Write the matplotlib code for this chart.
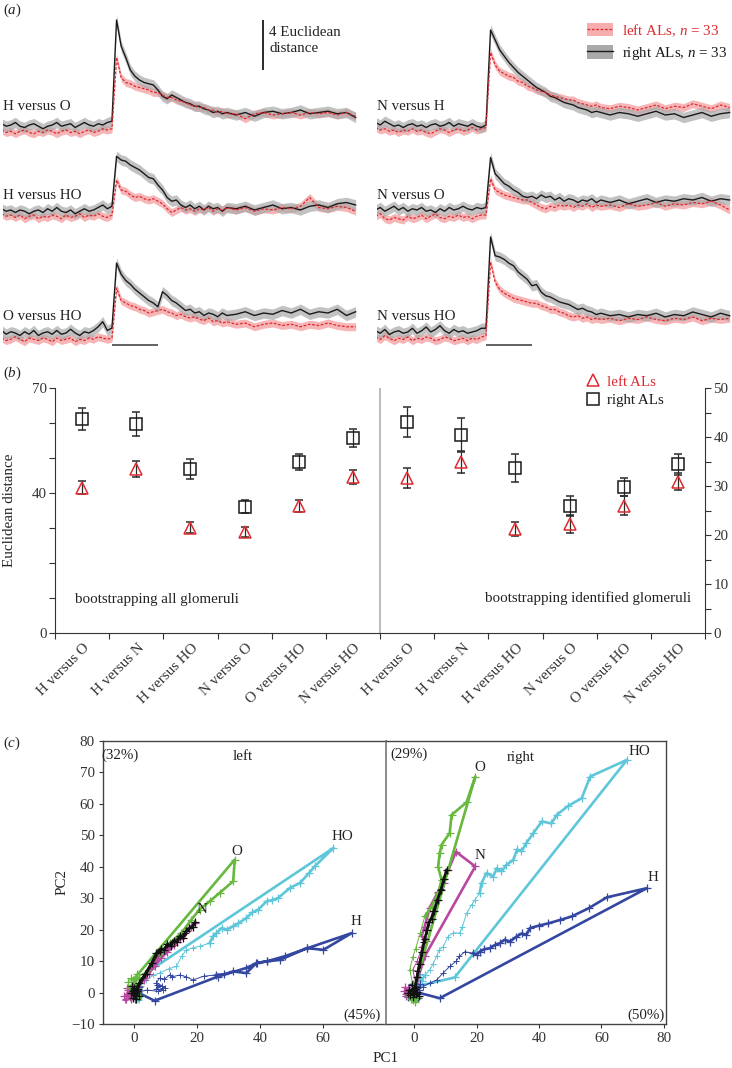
import numpy as np
import matplotlib
matplotlib.use("Agg")
import matplotlib.pyplot as plt
from matplotlib.patches import Patch
from matplotlib.lines import Line2D
import matplotlib.transforms as mtransforms

plt.rcParams['font.family'] = ['Liberation Serif', 'DejaVu Serif']
plt.rcParams['mathtext.fontset'] = 'custom'
plt.rcParams['mathtext.rm'] = 'Liberation Serif'
plt.rcParams['mathtext.it'] = 'Liberation Serif:italic'
plt.rcParams['font.size'] = 10.8
plt.rcParams['text.color'] = '#222222'
plt.rcParams['axes.edgecolor'] = '#333333'
plt.rcParams['xtick.color'] = '#333333'
plt.rcParams['ytick.color'] = '#333333'
FS = 10.8

# ------------------------------------------------------------------ data (a)
T_PRE = [-2.4, -2.3, -2.2, -2.1, -2.0, -1.9, -1.8, -1.7, -1.6, -1.5, -1.4, -1.3,
         -1.2, -1.1, -1.0, -0.9, -0.8, -0.7, -0.6, -0.5, -0.4, -0.3, -0.2, -0.1]
T_POST = [0.0, 0.1, 0.2, 0.3, 0.4, 0.5, 0.6, 0.7, 0.8, 0.9, 1.0, 1.1, 1.2, 1.3,
          1.4, 1.5, 1.6, 1.7, 1.8, 1.9, 2.0, 2.1, 2.2, 2.3, 2.4, 2.5]
T_TAIL = [2.7, 2.9, 3.1, 3.3, 3.5, 3.7, 3.9, 4.1, 4.3, 4.5, 4.7, 4.9, 5.1, 5.3]
STIM = [0.0, 1.0]
SCALE_BAR = 4

HvO_right = [2.1, 1.9, 2.0, 2.2, 1.9, 1.8, 2.0, 2.1, 1.9, 1.7, 1.9, 2.0, 2.2, 1.9, 2.0, 2.1, 1.8, 2.0, 2.2, 2.0, 1.9, 2.1, 2.0, 2.2,
             2.3, 10.4, 8.3, 7.4, 6.4, 5.9, 5.6, 5.4, 5.3, 5.2, 4.8, 4.3, 4.1, 4.4, 4.2, 4.0, 3.8, 3.7, 3.5, 3.5, 3.3, 3.2, 3.0, 3.1, 2.9, 3.0,
             2.8, 3.0, 2.7, 3.0, 3.1, 2.9, 3.0, 3.2, 2.9, 3.0, 3.1, 2.9, 3.0, 2.6]
HvO_left = [1.6, 1.4, 1.5, 1.3, 1.5, 1.6, 1.4, 1.3, 1.5, 1.4, 1.6, 1.5, 1.3, 1.5, 1.6, 1.4, 1.5, 1.3, 1.5, 1.6, 1.4, 1.5, 1.7, 1.6,
            1.7, 7.4, 5.8, 5.4, 5.3, 5.1, 5.0, 4.9, 4.8, 4.6, 4.6, 4.4, 4.2, 4.2, 4.0, 3.9, 3.8, 3.6, 3.5, 3.4, 3.4, 3.2, 3.2, 3.0, 3.1, 2.9,
            2.9, 2.5, 2.9, 3.0, 2.8, 2.9, 3.0, 2.8, 3.0, 2.9, 3.0, 2.8, 3.0, 2.7]
HvHO_right = [2.1, 1.9, 2.0, 1.8, 2.0, 1.9, 1.7, 1.9, 2.0, 1.8, 2.1, 1.9, 2.2, 1.9, 1.8, 2.0, 1.7, 1.9, 2.1, 1.9, 2.0, 2.2, 2.4, 2.1,
              2.3, 6.3, 6.0, 5.9, 5.6, 5.4, 5.2, 4.9, 4.6, 4.5, 4.0, 3.6, 3.0, 2.7, 2.8, 2.4, 2.2, 2.4, 2.1, 2.3, 2.0, 2.3, 2.1, 2.2, 1.9, 2.2,
              2.1, 2.3, 2.0, 2.2, 2.4, 2.1, 2.2, 2.0, 2.3, 2.4, 2.2, 2.5, 2.6, 2.4]
HvHO_left = [1.7, 1.5, 1.6, 1.4, 1.6, 1.3, 1.5, 1.6, 1.3, 1.5, 1.4, 1.6, 1.5, 1.3, 1.6, 1.4, 1.5, 1.7, 1.4, 1.6, 1.5, 1.7, 1.5, 1.4,
             1.6, 4.4, 3.6, 3.5, 3.2, 3.0, 3.1, 2.9, 2.8, 2.9, 2.7, 2.5, 2.1, 1.8, 2.0, 2.2, 2.0, 2.1, 1.9, 2.1, 2.0, 2.2, 1.9, 2.1, 2.0, 2.2,
             2.0, 2.2, 1.9, 2.1, 2.0, 2.2, 2.1, 2.3, 3.0, 2.2, 2.1, 2.3, 2.2, 1.9]
OvHO_right = [2.2, 1.9, 2.1, 2.0, 1.8, 2.1, 1.9, 2.2, 1.8, 2.0, 2.1, 1.9, 2.2, 1.9, 2.0, 2.3, 2.0, 1.8, 2.1, 2.0, 2.2, 2.5, 2.9, 2.2,
              2.4, 7.6, 6.7, 6.2, 5.9, 5.5, 5.2, 4.9, 4.6, 4.4, 4.1, 5.3, 5.0, 4.6, 4.4, 4.1, 3.8, 3.9, 3.6, 3.7, 3.4, 3.6, 3.5, 3.3, 3.6, 3.4,
              3.5, 3.7, 3.4, 3.6, 3.5, 3.8, 3.6, 3.9, 3.5, 3.7, 3.6, 3.9, 3.4, 3.7]
OvHO_left = [1.6, 1.4, 1.5, 1.7, 1.5, 1.3, 1.6, 1.5, 1.4, 1.6, 1.5, 1.3, 1.6, 1.4, 1.5, 1.6, 1.3, 1.5, 1.4, 1.6, 1.5, 1.7, 1.6, 1.5,
             1.6, 5.6, 4.6, 4.4, 4.2, 4.1, 3.9, 3.8, 3.6, 3.7, 3.8, 3.9, 3.7, 3.6, 3.4, 3.5, 3.3, 3.2, 3.3, 3.1, 3.0, 3.2, 2.9, 3.0, 2.8, 2.9,
             2.7, 2.8, 2.5, 2.7, 2.8, 2.6, 2.7, 2.5, 2.7, 2.6, 2.8, 2.6, 2.5, 2.5]
NvH_right = [2.2, 2.0, 2.3, 2.1, 1.9, 2.0, 1.8, 2.0, 2.1, 1.9, 2.0, 1.8, 2.0, 2.1, 1.9, 2.0, 2.2, 1.9, 2.1, 2.0, 1.9, 2.1, 1.9, 1.8,
             2.0, 9.6, 8.8, 8.0, 7.5, 7.0, 6.6, 6.2, 5.9, 5.6, 5.3, 5.0, 4.8, 4.6, 4.3, 4.2, 4.0, 3.8, 3.7, 3.6, 3.4, 3.3, 3.2, 3.0, 3.1, 3.0,
             2.8, 3.0, 2.9, 2.7, 2.9, 3.1, 2.8, 2.9, 2.6, 2.8, 3.0, 2.7, 2.9, 3.0]
NvH_left = [1.8, 1.6, 1.7, 1.5, 1.6, 1.4, 1.6, 1.5, 1.7, 1.5, 1.6, 1.4, 1.3, 1.5, 1.7, 1.6, 1.4, 1.6, 1.7, 1.5, 1.6, 1.8, 1.6, 1.7,
            1.8, 7.8, 6.8, 6.3, 6.1, 5.9, 5.8, 5.5, 5.4, 5.1, 5.0, 4.8, 4.7, 4.6, 4.4, 4.3, 4.2, 4.1, 4.0, 4.0, 3.8, 3.7, 3.6, 3.5, 3.6, 3.4,
            3.3, 3.5, 3.4, 3.2, 3.4, 3.6, 3.3, 3.5, 3.4, 3.7, 3.5, 3.3, 3.6, 3.4]
NvO_right = [2.0, 2.2, 1.9, 2.1, 2.3, 2.0, 2.2, 1.9, 2.1, 2.0, 2.2, 1.9, 2.0, 1.8, 2.1, 1.9, 2.2, 2.0, 2.1, 2.3, 2.1, 2.0, 2.2, 2.1,
             2.2, 6.2, 4.9, 4.5, 4.1, 3.9, 3.6, 3.4, 3.1, 3.0, 3.1, 2.9, 3.2, 3.0, 3.1, 2.8, 3.0, 2.7, 2.9, 2.8, 2.6, 2.8, 2.7, 2.9, 2.6, 2.8,
             2.6, 2.8, 2.5, 2.7, 2.9, 2.6, 2.8, 2.7, 2.9, 2.8, 3.0, 2.7, 2.9, 2.8]
NvO_left = [1.5, 1.7, 1.3, 1.2, 1.4, 1.3, 1.2, 1.5, 1.3, 1.4, 1.6, 1.3, 1.5, 1.7, 1.4, 1.3, 1.5, 1.4, 1.6, 1.4, 1.5, 1.3, 1.5, 1.6,
            1.6, 4.5, 3.6, 3.4, 3.2, 3.1, 3.0, 2.9, 2.8, 2.8, 2.6, 2.4, 2.2, 2.1, 2.3, 2.2, 2.4, 2.3, 2.4, 2.2, 2.4, 2.3, 2.5, 2.2, 2.4, 2.3,
            2.4, 2.2, 2.5, 2.3, 2.4, 2.6, 2.3, 2.5, 2.4, 2.6, 2.5, 2.7, 2.4, 2.0]
NvHO_right = [2.1, 1.9, 2.2, 1.8, 2.0, 2.1, 1.9, 2.0, 2.3, 1.9, 2.1, 2.4, 2.0, 2.2, 2.5, 2.1, 1.9, 2.2, 2.0, 2.1, 1.9, 2.0, 2.1, 2.3,
              2.3, 9.6, 8.1, 8.0, 7.8, 7.5, 7.3, 6.8, 6.5, 6.2, 5.7, 5.8, 5.2, 4.9, 4.8, 4.6, 4.4, 4.3, 4.2, 4.0, 3.8, 3.9, 3.7, 3.6, 3.4, 3.5,
              3.3, 3.4, 3.2, 3.4, 3.3, 3.5, 3.2, 3.4, 3.3, 3.6, 3.4, 3.2, 3.5, 3.3]
NvHO_left = [1.6, 1.4, 1.7, 1.5, 1.3, 1.5, 1.4, 1.6, 1.3, 1.5, 1.4, 1.6, 1.5, 1.3, 1.4, 1.6, 1.5, 1.3, 1.4, 1.5, 1.3, 1.5, 1.4, 1.6,
             1.7, 7.6, 6.0, 5.4, 5.1, 4.9, 4.7, 4.6, 4.5, 4.4, 4.3, 4.3, 4.1, 4.0, 3.8, 3.8, 3.6, 3.5, 3.3, 3.2, 3.3, 3.1, 3.2, 3.0, 3.1, 3.0,
             3.1, 2.9, 3.1, 3.0, 3.2, 3.0, 2.9, 3.1, 3.0, 3.2, 2.9, 3.1, 3.0, 3.1]
SEM_LEFT = 0.32
SEM_RIGHT = 0.42

# ------------------------------------------------------------------ data (b)
PAIRS = ["H versus O", "H versus N", "H versus HO", "N versus O", "O versus HO", "N versus HO"]
ALL_RIGHT = [61.1, 59.7, 46.8, 36.1, 48.9, 55.8]
ALL_RIGHT_ERR = [3.1, 3.5, 2.9, 1.9, 2.2, 2.6]
ALL_LEFT = [41.5, 46.9, 30.1, 28.9, 36.3, 44.5]
ALL_LEFT_ERR = [1.9, 2.3, 1.5, 1.5, 1.7, 2.0]
ID_RIGHT = [43.0, 40.5, 33.7, 25.9, 29.8, 34.4]
ID_RIGHT_ERR = [3.1, 3.4, 2.8, 2.1, 1.9, 2.1]
ID_LEFT = [31.6, 34.8, 21.2, 22.2, 26.0, 30.9]
ID_LEFT_ERR = [2.1, 2.2, 1.4, 1.8, 1.9, 1.8]

# ------------------------------------------------------------------ data (c)
L_H_on = [(0.5, 0.3), (6.4, -2.6), (26.6, 5.1), (35.5, 7.8), (39, 9.4), (42, 9.9), (48, 11.6), (55, 14.1), (69.1, 18.9),
          (60.1, 13.6), (54.8, 14.1), (46.3, 10.4), (42, 9.9), (38.8, 9.4), (35.6, 6.2), (31.4, 6.7), (28.5, 5.8), (26, 5.6)]
L_H_off = [(26, 5.6), (22, 5.2), (18.6, 4.0), (16.5, 5.0), (14.4, 5.6), (12, 5.0), (11.2, 5.6), (9.5, 4.2), (8.0, 4.6),
           (6.9, 3.0), (8.8, 2.2), (6.9, 1.2), (9.0, 0.8), (7.2, 2.4), (9.6, 1.6), (7.5, 0.4), (4.0, 0.8), (1.5, 0.2)]
L_H_pre = [(0.2, 0.5), (-0.6, 1.2), (0.9, -0.9), (0.1, 1.8), (-0.9, 0.2), (0.6, -1.5), (1.2, 0.7), (-0.2, -0.4),
           (0.7, 0.9), (0.0, 0.0), (-1.4, -1.0), (1.6, 1.8), (-0.5, 2.4), (0.3, -2.2)]
L_HO_on = [(0.8, 0.6), (3.7, 6.2), (63.3, 46.0), (57.4, 40.2), (55.5, 38.0), (52.7, 34.9), (49.5, 33.3), (45.7, 30.1),
           (43.8, 29.4), (42.0, 29.0), (39.4, 26.4), (37.5, 25.5), (35.6, 23.7), (33.0, 22.0), (31.4, 21.1), (29.5, 20.0),
           (27.7, 20.5), (26.0, 18.8), (25.0, 17.9), (23.9, 15.7)]
L_HO_off = [(23.9, 15.7), (21.0, 14.8), (18.5, 14.2), (16.5, 13.6), (15.0, 11.5), (13.3, 8.3), (11.0, 7.6), (8.0, 6.2),
            (6.0, 5.5), (3.7, 4.0), (2.0, 2.2), (1.2, -0.5), (1.5, -2.5)]
L_HO_pre = [(1.0, -1.8), (0.3, 0.6), (1.6, -0.8), (-0.4, 1.0), (0.9, 0.2), (2.0, -1.2)]
L_O_on = [(0.3, 2.5), (0.5, 5.1), (31.9, 42.3), (31.4, 35.4), (27.1, 31.7), (23.9, 29.0), (20.7, 26.4), (18.1, 23.2),
          (14.9, 18.9), (11.2, 15.7), (8.0, 12.6)]
L_O_off = [(8.0, 12.6), (4.3, 7.2), (1.6, 5.1), (-0.5, 4.2), (0.8, 2.0), (-0.3, -0.5), (0.5, -1.5)]
L_O_pre = [(-1.2, 4.5), (-2.0, 3.5), (0.2, 3.0), (1.5, 4.6), (-0.8, 2.2), (0.5, -2.0), (1.8, -1.2), (-1.5, 1.5), (0.9, 5.8), (-0.2, 4.0)]
L_N_on = [(0.0, 1.0), (3.0, 4.5), (5.0, 7.5), (6.9, 10.4), (8.5, 12.5), (10.1, 13.6), (12.0, 15.5), (14.0, 17.5),
          (16.0, 18.9), (17.5, 20.5), (19.1, 22.1), (18.0, 21.0), (16.5, 19.5), (14.5, 17.0), (12.5, 15.0), (10.5, 13.0),
          (8.5, 11.0), (6.5, 8.5), (4.5, 6.0), (3.0, 4.0)]
L_N_off = [(3.0, 4.0), (1.5, 2.0), (-0.5, 0.5), (-2.0, -1.0), (-3.0, -2.5), (-1.5, -1.8), (-2.5, -0.5), (-0.5, -1.0)]
L_N_pre = [(-2.8, -2.0), (-1.6, -0.6), (-3.2, -1.2), (-2.0, 0.8), (-1.0, -2.2), (-2.4, 1.5), (-0.6, 0.2)]
L_K_on = [(0.0, 0.0), (1.5, 3.0), (3.5, 6.0), (5.5, 9.5), (7.0, 12.5), (8.5, 14.0), (9.5, 13.5), (10.5, 15.5), (11.5, 14.8),
          (12.5, 16.5), (13.5, 16.0), (14.5, 18.0), (15.5, 17.5), (16.5, 19.5), (17.5, 20.5), (18.5, 21.0), (19.3, 22.3)]
L_K_off = [(19.3, 22.3), (16.0, 19.0), (12.0, 16.0), (8.0, 13.0), (4.0, 6.0), (1.0, 1.0), (0.0, -0.5)]
L_K_pre = [(0.2, -0.8), (-0.6, 0.6), (0.8, 0.4), (0.0, 1.4), (-0.4, -1.6), (0.6, -0.2), (-0.2, 0.8), (0.4, -2.0),
           (1.0, 1.0), (-1.0, -0.3), (1.3, -1.2), (-0.8, 2.0)]

R_H_on = [(0.5, 0.2), (8.2, -1.8), (74.6, 33.2), (61.8, 30.3), (55.9, 26.8), (50.5, 24.2), (46.8, 23.1), (43.0, 22.0),
          (40.0, 21.3), (37.1, 20.5), (36.0, 18.3), (34.5, 18.8), (32.8, 17.8), (30.7, 16.2), (29.0, 16.8), (27.5, 15.7),
          (26.0, 15.2), (24.3, 14.1), (22.5, 13.8), (21.0, 13.0), (20.0, 12.0), (18.9, 12.5)]
R_H_off = [(18.9, 12.5), (16.3, 13.0), (14.5, 11.5), (13.5, 10.0), (11.4, 8.3), (9.3, 6.2), (7.2, 4.0), (5.0, 3.0), (2.9, 1.9), (1.0, 0.5)]
R_H_pre = [(0.2, 0.4), (-0.8, 1.2), (1.0, -0.6), (-0.3, -1.0), (0.7, 1.5), (-1.2, 0.0), (0.4, 2.2), (1.5, 0.8),
           (-1.8, -1.4), (2.0, 2.6), (-0.6, 2.8), (1.2, -1.8)]
R_HO_on = [(1.0, 2.0), (13.0, 4.8), (68.2, 74.0), (56.4, 68.7), (53.7, 61.8), (49.4, 59.4), (45.7, 56.5), (44.0, 53.8),
           (40.9, 54.4), (38.2, 50.7), (36.0, 47.6), (34.4, 44.9), (33.0, 45.5), (31.8, 42.2), (29.6, 40.6), (28.0, 38.5),
           (26.5, 39.5), (25.3, 36.9), (23.2, 38.0), (21.6, 34.8), (21.0, 31.6)]
R_HO_off = [(21.0, 31.6), (19.5, 29.5), (18.5, 28.0), (16.8, 25.2), (15.5, 21.0), (14.6, 18.9), (12.5, 19.0), (10.9, 17.8),
            (9.3, 14.6), (8.0, 13.5), (7.2, 11.5), (6.0, 9.0), (5.0, 7.2), (3.0, 5.0), (1.8, 4.0), (0.5, 1.0)]
R_HO_pre = [(1.5, 5.0), (2.5, 3.8), (3.5, 5.5), (0.8, 2.5), (2.0, 6.0), (-0.5, 1.5)]
R_O_on = [(0.0, 1.0), (1.0, 5.0), (19.6, 68.7), (16.8, 60.5), (12.0, 56.5), (11.4, 50.7), (8.8, 47.0), (8.2, 44.3),
          (7.7, 40.0), (8.8, 35.8), (7.7, 31.6), (5.6, 27.4), (3.4, 24.2)]
R_O_off = [(3.4, 24.2), (2.0, 19.0), (0.5, 14.0), (-0.4, 11.4), (-1.4, 7.3), (-0.5, 3.0), (0.0, -1.0)]
R_O_pre = [(-0.5, -2.5), (0.5, -2.0), (-1.5, -1.0), (0.2, -3.0), (-0.8, 0.5), (1.0, -1.5), (-1.0, -2.2)]
R_N_on = [(0.0, 0.5), (3.4, 11.5), (19.6, 40.1), (13.4, 44.8), (11.0, 39.0), (9.5, 35.0), (7.6, 31.9), (5.0, 27.0),
          (3.4, 21.0), (2.4, 18.0), (3.8, 16.5), (2.6, 14.6)]
R_N_off = [(2.6, 14.6), (1.0, 10.0), (-0.4, 7.3), (0.5, 3.0), (-2.0, 1.0), (-3.0, -0.5)]
R_N_pre = [(-3.2, 0.5), (-2.5, -1.0), (-1.8, 1.2), (-3.0, 1.8), (-1.0, -0.5), (-2.2, 0.0)]
R_K_on = [(0.0, 0.0), (1.0, 5.0), (1.8, 9.0), (2.6, 13.0), (3.4, 17.0), (4.2, 20.0), (4.8, 22.5), (5.6, 23.5), (6.5, 26.0),
          (7.5, 29.5), (8.6, 32.5), (9.5, 36.0), (10.4, 39.0)]
R_K_off = [(10.4, 39.0), (8.5, 33.0), (6.0, 26.0), (3.0, 16.0), (1.0, 7.0), (0.0, 1.0)]
R_K_pre = [(-0.6, 0.4), (0.5, -0.5), (-1.2, -0.8), (0.2, 1.2), (-0.3, -1.5), (1.0, 0.3), (-1.5, 0.8), (0.6, 1.8),
           (-2.0, -0.2), (1.6, -1.0), (-0.8, 2.4)]

# ------------------------------------------------------------------ styles
RED = '#dd2a30'
RED_BAND = '#f6adae'
BLACK = '#1a1a1a'
GREY_BAND = '#a9a9a9'
C_H = '#3447a0'
C_HO = '#5ec6d9'
C_O = '#66b83e'
C_N = '#b8479f'
C_K = '#111111'

W, H = 732, 1068
fig = plt.figure(figsize=(W / 100, H / 100), dpi=100)


def px_axes(l, t, r, b):
    return fig.add_axes([l / W, 1 - b / H, (r - l) / W, (b - t) / H])


def ftext(x, y, s, **kw):
    return fig.text(x / W, 1 - y / H, s, **kw)


# ------------------------------------------------------------------ panel (a)
T = np.array(T_PRE + T_POST + T_TAIL)
PXU = 12.5  # pixels per unit
columns = [
    (3, [("H versus O", HvO_left, HvO_right, 125),
         ("H versus HO", HvHO_left, HvHO_right, 210),
         ("O versus HO", OvHO_left, OvHO_right, 333)]),
    (377, [("N versus H", NvH_left, NvH_right, 125),
           ("N versus O", NvO_left, NvO_right, 210),
           ("N versus HO", NvHO_left, NvHO_right, 332)]),
]
label_y = [107, 195, 316]
row_axes = {}
for ci, (x0, rows) in enumerate(columns):
    for ri, (name, lv, rv, base) in enumerate(rows):
        ax = px_axes(x0, base - 10 * PXU, x0 + 354, base + 2 * PXU)
        ax.set_xlim(-2.37, 5.33)
        ax.set_ylim(0, 12)
        ax.axis('off')
        lv = np.array(lv)
        rv = np.array(rv)
        ax.fill_between(T, lv - SEM_LEFT, lv + SEM_LEFT, color=RED_BAND, lw=0, alpha=0.9)
        ax.fill_between(T, rv - SEM_RIGHT, rv + SEM_RIGHT, color=GREY_BAND, lw=0, alpha=0.7)
        ax.plot(T, rv, color=BLACK, lw=1.0)
        ax.plot(T, lv, color=RED, lw=0.9, ls=(0, (2.2, 1.3)))
        ftext(x0, label_y[ri], name, va='center', ha='left', fontsize=FS)
        row_axes[(ci, ri)] = (ax, base)
    # stimulus bar under bottom row
    ax3, base3 = row_axes[(ci, 2)]
    ybar = (base3 + 2 * PXU - 345) / PXU
    ax3.plot(STIM, [ybar, ybar], color='#555555', lw=1.3, clip_on=False, solid_capstyle='butt')

# scale bar
ax1, _ = row_axes[(0, 0)]
ax1.plot([3.28, 3.28], [6.4, 6.4 + SCALE_BAR], color=BLACK, lw=1.3, solid_capstyle='butt')
ftext(269, 26, "4 Euclidean\ndistance", va='top', ha='left', fontsize=FS, linespacing=1.32)

ftext(3, 10, r"($\mathit{a}$)", va='center', ha='left', fontsize=FS)

leg_handles = [(Patch(facecolor=RED_BAND, edgecolor='none'), Line2D([], [], color=RED, lw=0.9, ls=(0, (2.2, 1.3)))),
               (Patch(facecolor=GREY_BAND, edgecolor='none'), Line2D([], [], color=BLACK, lw=1.0))]
leg = fig.legend(leg_handles, [r"left ALs, $n$ = 33", r"right ALs, $n$ = 33"],
                 loc='upper left', bbox_to_anchor=(587 / W, 1 - 22 / H), frameon=False,
                 handlelength=1.7, handleheight=1.0, labelspacing=0.42, handletextpad=0.6,
                 borderaxespad=0, borderpad=0, fontsize=FS)
leg.get_texts()[0].set_color(RED)
leg.get_texts()[1].set_color(BLACK)

# ------------------------------------------------------------------ panel (b)
axb = px_axes(55, 388, 705, 633)
axb.set_xlim(0, 12)
axb.set_ylim(0, 70)
axr = axb.twinx()
axr.set_ylim(0, 50)
xl = np.arange(len(PAIRS)) + 0.5
xr = np.arange(len(PAIRS)) + 6.5
mk = dict(mfc='none', ms=8.5, mew=1.1, capsize=2.6, elinewidth=0.9, capthick=0.9, ecolor='#2a2a2a', ls='none')
axb.errorbar(xl, ALL_LEFT, yerr=ALL_LEFT_ERR, fmt='^', mec=RED, **mk)
axb.errorbar(xl, ALL_RIGHT, yerr=ALL_RIGHT_ERR, fmt='s', mec=BLACK, **mk)
axr.errorbar(xr, ID_LEFT, yerr=ID_LEFT_ERR, fmt='^', mec=RED, **mk)
axr.errorbar(xr, ID_RIGHT, yerr=ID_RIGHT_ERR, fmt='s', mec=BLACK, **mk)
axb.axvline(6, color='#b0b0b0', lw=1.2)
for s in ['top', 'right']:
    axb.spines[s].set_visible(False)
for s in ['top', 'left', 'bottom']:
    axr.spines[s].set_visible(False)
axb.set_yticks(np.arange(0, 71, 10))
axb.set_yticklabels(['0', '', '', '', '40', '', '', '70'])
axr.set_yticks(np.arange(0, 51, 5))
axr.set_yticklabels(['0', '', '10', '', '20', '', '30', '', '40', '', '50'])
axb.tick_params(axis='y', direction='out', length=4, width=0.8, labelsize=FS, pad=2)
axr.tick_params(axis='y', direction='out', length=4, width=0.8, labelsize=FS, pad=2)
axb.set_xticks(np.arange(0, 13))
axb.set_xticklabels([])
axb.tick_params(axis='x', which='major', direction='out', length=4, width=0.8)
axb.set_xticks(np.concatenate([xl, xr]), minor=True)
axb.set_xticklabels(PAIRS + PAIRS, minor=True, rotation=45, ha='right', va='top',
                    rotation_mode='anchor', fontsize=FS)
axb.tick_params(axis='x', which='minor', length=0, pad=6)
off = mtransforms.ScaledTranslation(1 / 100, 0, fig.dpi_scale_trans)
for lab in axb.get_xticklabels(minor=True):
    lab.set_transform(lab.get_transform() + off)

ftext(10, 510, "Euclidean distance", rotation=90, va='center', ha='center', fontsize=FS)
ftext(75, 600, "bootstrapping all glomeruli", va='center', ha='left', fontsize=FS)
ftext(691, 598, "bootstrapping identified glomeruli", va='center', ha='right', fontsize=FS)
ftext(3, 373, r"($\mathit{b}$)", va='center', ha='left', fontsize=FS)

bh = [Line2D([], [], marker='^', mfc='none', mec=RED, ms=8.5, mew=1.1, ls='none'),
      Line2D([], [], marker='s', mfc='none', mec=BLACK, ms=8.5, mew=1.1, ls='none')]
legb = fig.legend(bh, ["left ALs", "right ALs"], loc='upper left', bbox_to_anchor=(585 / W, 1 - 375 / H),
                  frameon=False, handlelength=1.0, handletextpad=0.45, labelspacing=0.32,
                  borderaxespad=0, borderpad=0, fontsize=FS)
legb.get_texts()[0].set_color(RED)
legb.get_texts()[1].set_color(BLACK)

# ------------------------------------------------------------------ panel (c)
axL = px_axes(103, 741, 386, 1024)
axR = px_axes(386, 741, 666, 1024)
axL.set_xlim(-10, 80)
axR.set_xlim(-9, 80.7)
for ax in (axL, axR):
    ax.set_ylim(-10, 80)


def draw_traj(ax, on, off, pre, color):
    px_, py_ = zip(*pre)
    ax.plot(px_, py_, color=color, lw=0.6, marker='+', ms=5.5, mew=0.9)
    ox, oy = zip(*off)
    ax.plot(ox, oy, color=color, lw=0.7, marker='+', ms=4, mew=0.7)
    nx, ny = zip(*on)
    ax.plot(nx, ny, color=color, lw=1.9, marker='+', ms=5.5, mew=0.9)


draw_traj(axL, L_HO_on, L_HO_off, L_HO_pre, C_HO)
draw_traj(axL, L_H_on, L_H_off, L_H_pre, C_H)
draw_traj(axL, L_N_on, L_N_off, L_N_pre, C_N)
draw_traj(axL, L_O_on, L_O_off, L_O_pre, C_O)
draw_traj(axL, L_K_on, L_K_off, L_K_pre, C_K)
draw_traj(axR, R_HO_on, R_HO_off, R_HO_pre, C_HO)
draw_traj(axR, R_H_on, R_H_off, R_H_pre, C_H)
draw_traj(axR, R_N_on, R_N_off, R_N_pre, C_N)
draw_traj(axR, R_O_on, R_O_off, R_O_pre, C_O)
draw_traj(axR, R_K_on, R_K_off, R_K_pre, C_K)

for x, y, s in [(32.5, 44.8, "O"), (66, 49.5, "HO"), (70.5, 22.5, "H"), (21.5, 26.5, "N")]:
    axL.text(x, y, s, ha='center', va='center', fontsize=FS)
for x, y, s in [(21, 71.7, "O"), (21, 43.7, "N"), (72.2, 76.7, "HO"), (76.5, 36.6, "H")]:
    axR.text(x, y, s, ha='center', va='center', fontsize=FS)

axL.set_yticks(np.arange(-10, 81, 10))
axL.set_yticklabels(['\u221210'] + [str(v) for v in range(0, 81, 10)])
axL.set_xticks([0, 20, 40, 60])
axR.set_xticks([0, 20, 40, 60, 80])
axR.set_yticks([])
for ax in (axL, axR):
    ax.tick_params(direction='out', length=3, width=0.8, labelsize=FS, pad=3)
    for s in ax.spines.values():
        s.set_color('#444444')
        s.set_linewidth(1.0)
axL.spines['right'].set_visible(False)
axR.spines['left'].set_color('#8a8a8a')
axR.spines['left'].set_linewidth(1.4)

ftext(120, 755, "(32%)", va='center', ha='center', fontsize=FS)
ftext(243, 757, "left", va='center', ha='center', fontsize=FS)
ftext(362, 1015, "(45%)", va='center', ha='center', fontsize=FS)
ftext(409, 754, "(29%)", va='center', ha='center', fontsize=FS)
ftext(521, 757, "right", va='center', ha='center', fontsize=FS)
ftext(646, 1015, "(50%)", va='center', ha='center', fontsize=FS)
ftext(62, 882, "PC2", rotation=90, va='center', ha='center', fontsize=FS)
ftext(386, 1058, "PC1", va='center', ha='center', fontsize=FS)
ftext(3, 743, r"($\mathit{c}$)", va='center', ha='left', fontsize=FS)

fig.savefig("out.png", dpi=100)
